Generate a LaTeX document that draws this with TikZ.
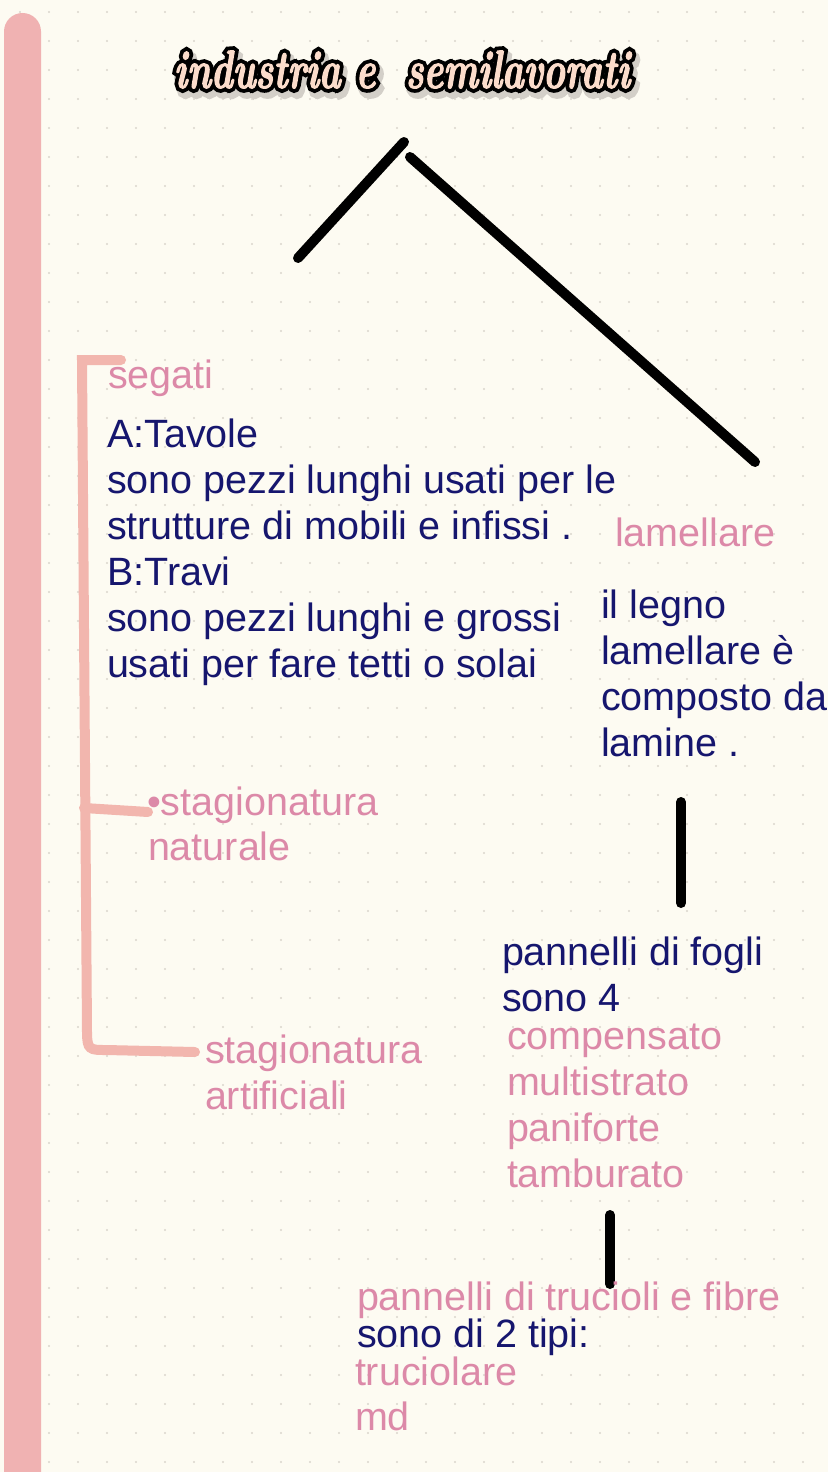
\documentclass[tikz,border=0pt]{standalone}
\usepackage{fontspec}
\newfontfamily\sansf{Liberation Sans}
\newfontfamily\titlefill{lmroman10-bolditalic.otf}[FakeStretch=0.68,FakeBold=2]
\newfontfamily\titleline{lmroman10-bolditalic.otf}[FakeStretch=0.68,FakeBold=16]
\newfontfamily\titleshade{lmroman10-bolditalic.otf}[FakeStretch=0.68,FakeBold=20]
\definecolor{bg}{HTML}{FDFBF2}
\definecolor{dotc}{HTML}{DAD5CD}
\definecolor{barpink}{HTML}{F0B2B2}
\definecolor{brpink}{HTML}{F2B6AE}
\definecolor{navy}{HTML}{16166E}
\definecolor{txtpink}{HTML}{DC89A8}
\definecolor{peach}{HTML}{FBDCCB}
\definecolor{shadowc}{HTML}{D3CFC8}
\begin{document}
\begin{tikzpicture}[x=1bp,y=-1bp,
  txt/.style={anchor=base west,inner sep=0pt,outer sep=0pt,font=\sansf\fontsize{39.5bp}{46bp}\selectfont},
  nv/.style={txt,text=navy},
  pk/.style={txt,text=txtpink},
  titletxt/.style={inner sep=0pt,outer sep=0pt,anchor=base},
  blackline/.style={line width=10bp,line cap=round,draw=black},
  bracket/.style={line width=10bp,line cap=round,draw=brpink}]
\useasboundingbox (0,0) rectangle (828,1472);
\fill[bg] (0,0) rectangle (828,1472);
\foreach \i in {0,...,28} \foreach \j in {0,...,50} \fill[dotc] (20+29*\i,12+29*\j) circle (1.2);
% left bar
\fill[barpink,rounded corners=18.5bp] (4,13) rectangle (41,1530);
% title
\node[titletxt,text=shadowc] (titleshadow) at (405,93) {\titleshade\fontsize{54bp}{54bp}\selectfont industria e\ \ semilavorati};
\node[titletxt,text=black] (titleoutline) at (402,88) {\titleline\fontsize{54bp}{54bp}\selectfont industria e\ \ semilavorati};
\node[titletxt,text=peach] (title) at (402,88) {\titlefill\fontsize{54bp}{54bp}\selectfont industria e\ \ semilavorati};
% black connectors
\coordinate (l1a) at (298,258); \coordinate (l1b) at (404,142);
\coordinate (l2a) at (410,157); \coordinate (l2b) at (755,462);
\draw[blackline] (l1a) -- (l1b);
\draw[blackline] (l2a) -- (l2b);
\coordinate (v1a) at (681,802); \coordinate (v1b) at (681,903);
\draw[blackline] (v1a) -- (v1b);
\coordinate (v2a) at (610,1215); \coordinate (v2b) at (610,1284);
\draw[blackline] (v2a) -- (v2b);
% pink bracket
\coordinate (bt) at (121,360); \coordinate (bm) at (148,812); \coordinate (bb) at (195,1052);
\draw[bracket,line join=miter] (bt) -- (82,360) -- (87,1032) .. controls (87,1050) and (90,1050) .. (106,1050) -- (bb);
\draw[bracket] (84,808) -- (bm);
% texts
\node[pk] (segati) at (108,388) {segati};
\node[nv] (t1) at (107,447) {A:Tavole};
\node[nv] (t2) at (107,493) {sono pezzi lunghi usati per le};
\node[nv] (t3) at (107,539) {strutture di mobili e infissi .};
\node[nv] (t4) at (107,585) {B:Travi};
\node[nv] (t5) at (107,631) {sono pezzi lunghi e grossi};
\node[nv] (t6) at (107,677) {usati per fare tetti o solai};
\node[pk] (lam) at (615,546) {lamellare};
\node[nv] (lg1) at (601,618) {il legno};
\node[nv] (lg2) at (601,664) {lamellare è};
\node[nv] (lg3) at (601,710) {composto da};
\node[nv] (lg4) at (601,756) {lamine .};
\node[pk] (sn1) at (147,815) {•stagionatura};
\node[pk] (sn2) at (148,860) {naturale};
\node[nv] (pf1) at (502,965) {pannelli di fogli};
\node[nv] (pf2) at (502,1011) {sono 4};
\node[pk] (c1) at (507,1049) {compensato};
\node[pk] (c2) at (507,1095) {multistrato};
\node[pk] (c3) at (507,1141) {paniforte};
\node[pk] (c4) at (507,1187) {tamburato};
\node[pk] (sa1) at (205,1063) {stagionatura};
\node[pk] (sa2) at (205,1109) {artificiali};
\node[pk] (pt1) at (357,1310) {pannelli di trucioli e fibre};
\node[nv] (pt2) at (357,1347) {sono di 2 tipi:};
\node[pk] (pt3) at (355,1385) {truciolare};
\node[pk] (pt4) at (355,1430) {md};
\end{tikzpicture}
\end{document}
